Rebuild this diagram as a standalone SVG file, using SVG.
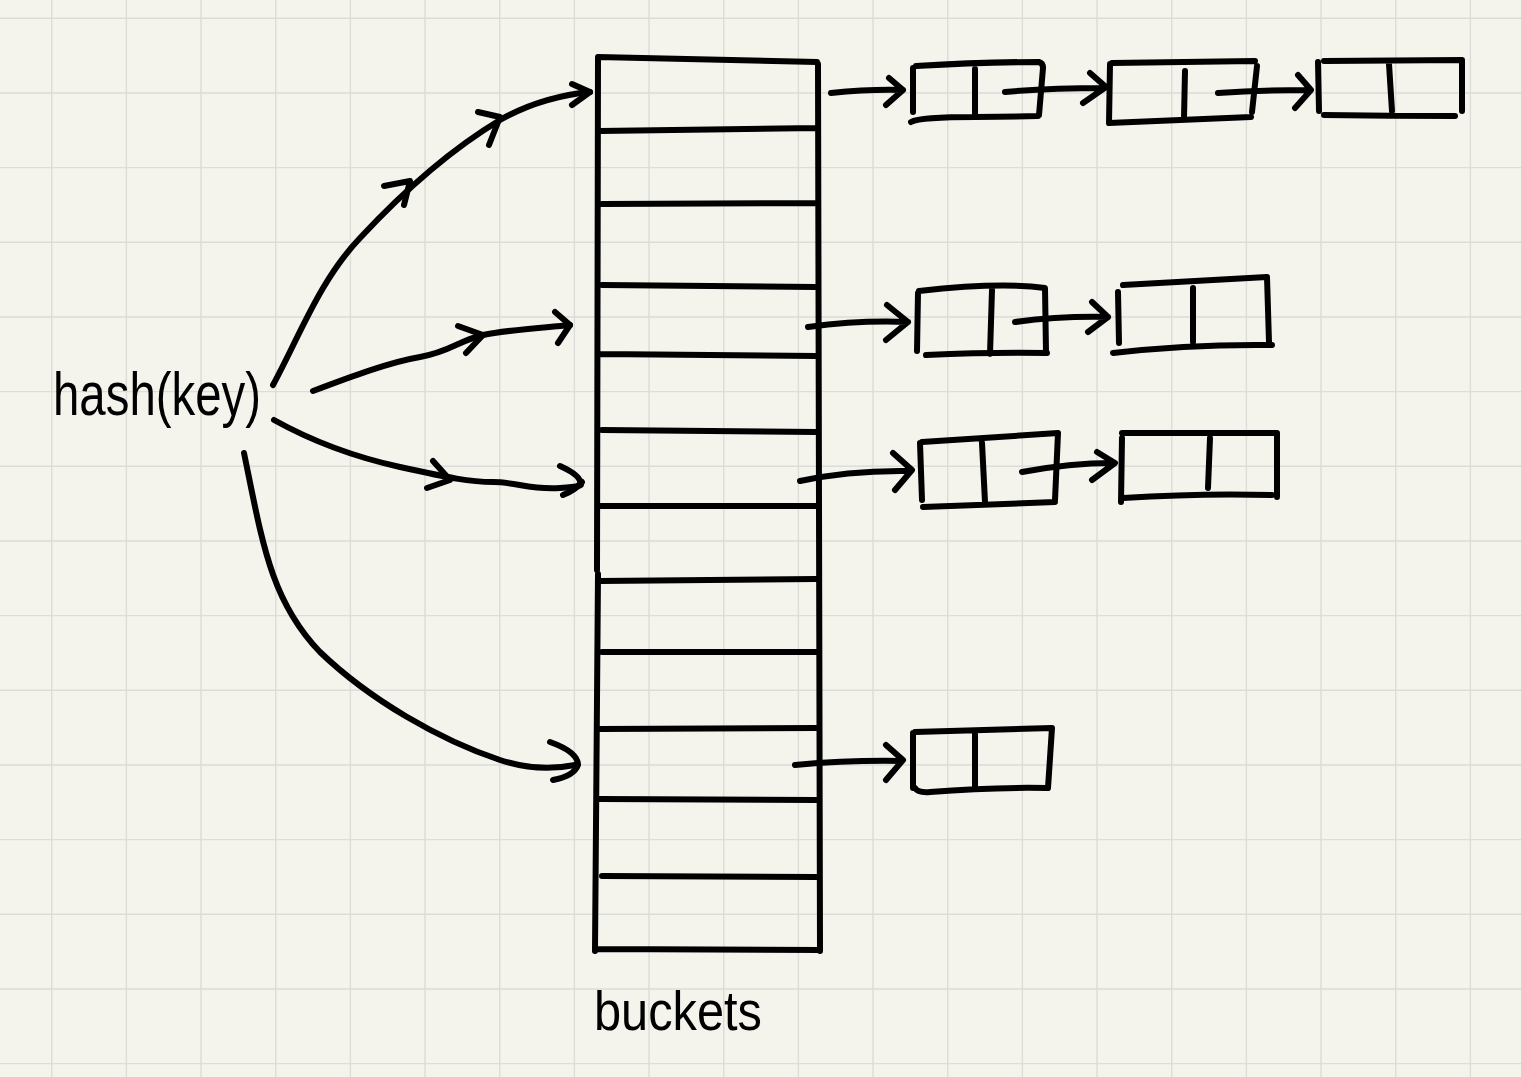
<svg xmlns="http://www.w3.org/2000/svg" width="1521" height="1077" viewBox="0 0 1521 1077">
<style>
.ink{fill:none;stroke:#000;stroke-width:6;stroke-linecap:round;stroke-linejoin:round}
.grid{fill:none;stroke:#dcdcd8;stroke-width:1.4}
.txt{font-family:"Liberation Sans","DejaVu Sans",sans-serif;fill:#000}
</style>
<rect width="1521" height="1077" fill="#f4f4ec"/>
<path class="grid" d="M51.7 0V1077M126.4 0V1077M201 0V1077M275.7 0V1077M350.4 0V1077M425 0V1077M499.7 0V1077M574.4 0V1077M649 0V1077M723.7 0V1077M798.4 0V1077M873 0V1077M947.7 0V1077M1022.4 0V1077M1097 0V1077M1171.7 0V1077M1246.4 0V1077M1321 0V1077M1395.7 0V1077M1470.4 0V1077M0 18.3H1521M0 93H1521M0 167.6H1521M0 242.3H1521M0 317H1521M0 391.6H1521M0 466.3H1521M0 541H1521M0 615.6H1521M0 690.3H1521M0 765H1521M0 839.6H1521M0 914.3H1521M0 989H1521M0 1063.6H1521"/>

<g id="hash-key">
<text class="txt" x="53" y="415" font-size="62" textLength="208" lengthAdjust="spacingAndGlyphs">hash(key)</text>
</g>

<g id="buckets">
<path class="ink" d="M598 58L597 570M598 574L595 951M598 57L817 62M818 64L820 951M597 949L820 950M600 131L817 128M602 204L816 203M602 285L816 287M600 354L816 356M602 430L816 432M600 506L818 506M600 581L816 579M602 652L818 652M600 729L816 728M600 799L816 800M602 876L816 877"/>
<text class="txt" x="594" y="1030" font-size="56" textLength="168" lengthAdjust="spacingAndGlyphs">buckets</text>
</g>

<g id="node-1a"><path class="ink" d="M913 68L913 112M916 66Q980 62 1039 62Q1043 63 1043 68L1039 115M911 122Q920 117 976 117Q1010 117 1038 116M975 69L975 117"/></g>
<g id="node-1b"><path class="ink" d="M1110 64L1109 123M1112 63L1255 61M1257 66L1252 112M1109 123L1251 117M1185 71L1184 118"/></g>
<g id="node-1c"><path class="ink" d="M1318 62L1319 111M1324 61L1462 60L1462 111M1324 115Q1390 116 1455 116M1389 64L1392 111"/></g>

<g id="node-2a"><path class="ink" d="M918 293L917 351M919 291Q1000 282 1045 288L1046 352M926 355Q990 352 1047 353M992 290L990 354"/></g>
<g id="node-2b"><path class="ink" d="M1118 292L1119 343M1123 285L1267 277L1269 342M1113 353Q1190 344 1272 345M1193 288L1193 342"/></g>

<g id="node-3a"><path class="ink" d="M920 443L922 500M922 442L1058 433L1055 500M923 507L1055 502M982 443L985 502"/></g>
<g id="node-3b"><path class="ink" d="M1122 438L1121 502M1122 433L1277 433L1277 497M1123 498Q1200 493 1272 495M1210 438L1208 488"/></g>

<g id="node-4a"><path class="ink" d="M913 733L913 788M915 732L1052 728L1048 788M915 788Q918 793 930 792Q990 787 1047 788M975 732L975 788"/></g>

<g id="connectors">
<path class="ink" d="M273 385C300 335 320 280 360 238C400 195 450 150 500 120C530 103 560 95 590 92"/>
<path class="ink" d="M384 186L410 181L404 205M478 112L500 117L489 145M572 84L590 92L572 105"/>
<path class="ink" d="M313 391C350 377 390 362 420 357S460 340 483 335S540 328 570 325"/>
<path class="ink" d="M458 326L483 335L466 353M555 312L570 325L558 343"/>
<path class="ink" d="M274 420C310 440 350 456 400 467S470 482 493 482S530 490 560 488S578 484 582 482"/>
<path class="ink" d="M433 461L450 480L427 488M560 466Q582 476 580 484Q575 490 563 495"/>
<path class="ink" d="M244 453C262 540 270 600 320 652C370 700 440 740 500 760C530 770 555 769 575 765"/>
<path class="ink" d="M550 742Q578 752 578 765Q574 776 553 780"/>

<path class="ink" d="M831 93Q870 89 903 90M889 78L903 90L886 105"/>
<path class="ink" d="M1005 92Q1050 88 1104 88M1090 73L1106 87L1083 103"/>
<path class="ink" d="M1218 93Q1260 90 1309 90M1298 75L1311 90L1295 108"/>
<path class="ink" d="M808 327Q860 320 908 322M887 305L908 322L886 340"/>
<path class="ink" d="M1015 322Q1060 316 1108 317M1092 302L1108 317L1088 332"/>
<path class="ink" d="M800 481Q850 470 910 471M893 453L912 470L895 490"/>
<path class="ink" d="M1022 472Q1070 463 1113 463M1097 452L1115 463L1092 480"/>
<path class="ink" d="M795 765Q850 760 902 761M886 745L903 760L886 780"/>
</g>
</svg>
